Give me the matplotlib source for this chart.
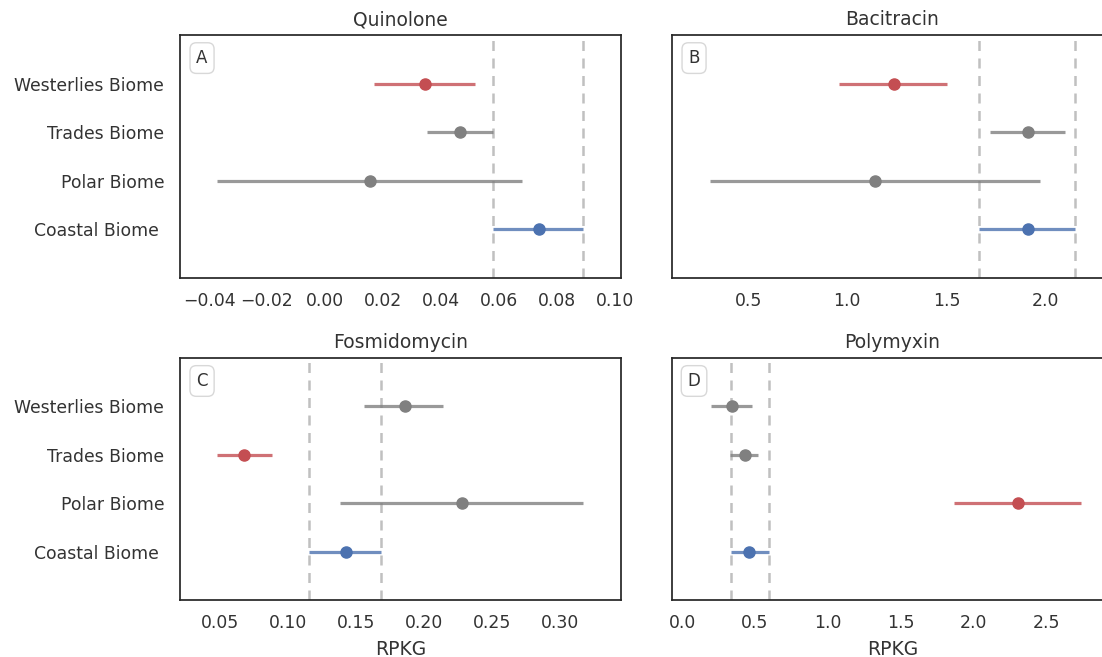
import matplotlib
matplotlib.use("Agg")
import matplotlib.pyplot as plt
import seaborn as sns

sns.set_theme(style="white", context="notebook")
plt.rcParams['font.family'] = ['DejaVu Sans']

categories = ["Westerlies Biome", "Trades Biome", "Polar Biome", "Coastal Biome "]
titles = ["Quinolone", "Bacitracin", "Fosmidomycin", "Polymyxin"]
letters = ["A", "B", "C", "D"]

quinolone_mean = [0.0345, 0.0466, 0.0155, 0.0738]
quinolone_low = [0.0169, 0.0352, -0.0372, 0.0579]
quinolone_high = [0.0517, 0.0579, 0.0679, 0.0888]

bacitracin_mean = [1.237, 1.909, 1.141, 1.909]
bacitracin_low = [0.96, 1.722, 0.308, 1.662]
bacitracin_high = [1.505, 2.096, 1.97, 2.146]

fosmidomycin_mean = [0.186, 0.0677, 0.228, 0.143]
fosmidomycin_low = [0.156, 0.0478, 0.138, 0.1154]
fosmidomycin_high = [0.214, 0.0882, 0.317, 0.1684]

polymyxin_mean = [0.342, 0.433, 2.31, 0.461]
polymyxin_low = [0.196, 0.33, 1.87, 0.335]
polymyxin_high = [0.48, 0.52, 2.74, 0.594]

highlight = [0, 0, 1, 2]  # index of red category per panel
xlims = [(-0.050, 0.102), (0.116, 2.34), (0.0206, 0.345), (-0.07, 2.96)]
xticks = [[-0.04, -0.02, 0.00, 0.02, 0.04, 0.06, 0.08, 0.10],
          [0.5, 1.0, 1.5, 2.0],
          [0.05, 0.10, 0.15, 0.20, 0.25, 0.30],
          [0.0, 0.5, 1.0, 1.5, 2.0, 2.5]]
xticklabels = [["\u22120.04", "\u22120.02", "0.00", "0.02", "0.04", "0.06", "0.08", "0.10"],
               ["0.5", "1.0", "1.5", "2.0"],
               ["0.05", "0.10", "0.15", "0.20", "0.25", "0.30"],
               ["0.0", "0.5", "1.0", "1.5", "2.0", "2.5"]]

data = [(quinolone_mean, quinolone_low, quinolone_high),
        (bacitracin_mean, bacitracin_low, bacitracin_high),
        (fosmidomycin_mean, fosmidomycin_low, fosmidomycin_high),
        (polymyxin_mean, polymyxin_low, polymyxin_high)]

RED = "#C44E52"
BLUE = "#4C72B0"
GRAY = "#808080"
TXT = "#333333"

W, H = 1102, 657
fig = plt.figure(figsize=(W / 100, H / 100), dpi=100)
aw = 441 / W
positions = [
    (180 / W, 1 - 278 / H, aw, 243 / H),
    (672 / W, 1 - 278 / H, aw, 243 / H),
    (180 / W, 1 - 600 / H, aw, 242 / H),
    (672 / W, 1 - 600 / H, aw, 242 / H),
]

ypos = list(range(len(categories)))
for k in range(4):
    ax = fig.add_axes(positions[k])
    means, lows, highs = data[k]
    for i in ypos:
        if i == highlight[k]:
            c = RED
        elif i == 3:
            c = BLUE
        else:
            c = GRAY
        ax.plot([lows[i], highs[i]], [i, i], color=c, lw=2.3, alpha=0.8,
                solid_capstyle="butt", zorder=2)
        ax.plot([means[i]], [i], "o", color=c, ms=8, zorder=3)
    for v in (lows[3], highs[3]):
        ax.axvline(v, color="#c0c0c0", lw=1.8, ls=(0, (4, 3)), zorder=1)
    ax.set_ylim(4.0, -1.0)
    ax.set_xlim(*xlims[k])
    ax.set_xticks(xticks[k])
    ax.set_xticklabels(xticklabels[k])
    ax.set_yticks(ypos)
    if k % 2 == 0:
        ax.set_yticklabels(categories)
    else:
        ax.set_yticklabels([])
    ax.tick_params(axis="x", labelsize=12.4, length=0, pad=10, colors=TXT)
    ax.tick_params(axis="y", labelsize=12.4, length=0, pad=11.5, colors=TXT)
    ax.set_title(titles[k], fontsize=13.5, color=TXT, pad=7)
    for s in ax.spines.values():
        s.set_color("#262626")
        s.set_linewidth(1.25)
    ax.text(0.05, 0.905, letters[k], transform=ax.transAxes, fontsize=12,
            ha="center", va="center", color=TXT,
            bbox=dict(boxstyle="round,pad=0.38", fc="white", ec="#d8d8d8", lw=1))
    if k >= 2:
        ax.set_xlabel("RPKG", fontsize=13.5, color=TXT, labelpad=6)

fig.savefig("out.png", dpi=100)
